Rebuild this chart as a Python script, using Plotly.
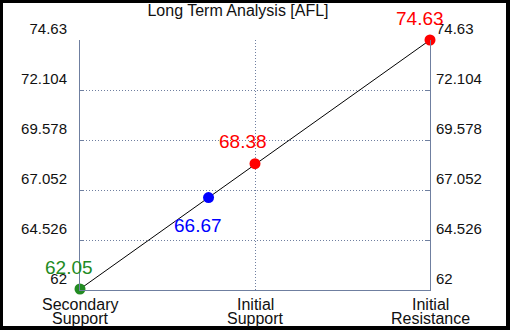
import plotly.graph_objects as go

# ---- data ----
categories = ["Secondary<br>Support", "Initial<br>Support", "Initial<br>Resistance"]
category_pos = [0, 1, 2]
point_x = [0, 0.7345, 1, 2]
point_values = [62.05, 66.67, 68.38, 74.63]
point_labels = ["62.05", "66.67", "68.38", "74.63"]
point_colors = ["#228b22", "#0000ff", "#ff0000", "#ff0000"]
y_ticks = [62, 64.526, 67.052, 69.578, 72.104, 74.63]
y_ticktext = ["62", "64.526", "67.052", "69.578", "72.104", "74.63"]
title_text = "Long Term Analysis [AFL]"

# label offsets (px) per point
label_dx = [-11, -11, -12, -10]
label_dy = [22, -28, 22, 22]

axis_color = "#6f7fa0"
font_family = "Liberation Sans, Arial, sans-serif"
dot_dash = "1px,2px"
xlabel_line_shift = [-14, -28]

fig = go.Figure()
fig.add_trace(go.Scatter(
    x=point_x, y=point_values, mode="lines",
    line=dict(color="black", width=1), hoverinfo="skip", showlegend=False,
    cliponaxis=False,
))
fig.add_trace(go.Scatter(
    x=point_x, y=point_values, mode="markers",
    marker=dict(color=point_colors, size=11, line=dict(width=0)),
    showlegend=False, cliponaxis=False,
))
# invisible trace on right axis
fig.add_trace(go.Scatter(
    x=[point_x[0]], y=[point_values[0]], yaxis="y2", mode="markers",
    marker=dict(opacity=0), showlegend=False, hoverinfo="skip",
))

for xv, yv, t, c, dx, dy in zip(point_x, point_values, point_labels, point_colors, label_dx, label_dy):
    fig.add_annotation(
        x=xv, y=yv, text=t, showarrow=False,
        xshift=dx, yshift=dy,
        font=dict(family=font_family, size=19, color=c),
    )

# category labels (tight two-line labels)
for pos, cat in zip(category_pos, categories):
    for line, shift in zip(cat.split("<br>"), xlabel_line_shift):
        fig.add_annotation(
            x=pos, xref="x", y=0, yref="paper", yanchor="middle",
            text=line, showarrow=False, yshift=shift,
            font=dict(family=font_family, size=16, color="#111111"),
        )

yax_common = dict(
    range=[y_ticks[0], y_ticks[-1]],
    tickvals=y_ticks, ticktext=y_ticktext,
    showgrid=True, gridcolor=axis_color, griddash=dot_dash, gridwidth=1,
    showline=True, linecolor=axis_color, linewidth=1,
    ticks="inside", ticklen=4, tickcolor=axis_color,
    ticklabelposition="outside top",
    tickfont=dict(family=font_family, size=15, color="#111111"),
    zeroline=False, fixedrange=True, automargin=False,
)

fig.update_layout(
    width=510, height=330,
    margin=dict(l=80, r=80, t=40, b=40, autoexpand=False),
    paper_bgcolor="black",
    plot_bgcolor="white",
    title=dict(
        text=title_text, x=238 / 510, xanchor="center",
        xref="container", yref="container", y=1 - 10 / 330, yanchor="middle",
        font=dict(family=font_family, size=16, color="#111111"),
        automargin=False,
    ),
    xaxis=dict(
        range=[0, 2], tickvals=category_pos, ticktext=categories,
        showticklabels=False,
        showgrid=True, gridcolor=axis_color, griddash=dot_dash, gridwidth=1,
        showline=True, linecolor=axis_color, linewidth=1,
        ticks="", zeroline=False, fixedrange=True, automargin=False,
    ),
    yaxis=dict(**yax_common, side="left", ticklabelstandoff=9),
    yaxis2=dict(**yax_common, side="right", overlaying="y", ticklabelstandoff=2),
    shapes=[
        dict(
            type="rect", xref="paper", yref="paper", layer="below",
            x0=(3 - 80) / 350, x1=(506 - 80) / 350,
            y0=(290 - 326) / 250, y1=(290 - 3) / 250,
            fillcolor="white", line=dict(width=0),
        )
    ],
)

fig.write_html(
    "out.html",
    config={"displayModeBar": False},
    post_script="document.body.style.margin='0';document.body.style.padding='0';document.body.style.overflow='hidden';",
)
